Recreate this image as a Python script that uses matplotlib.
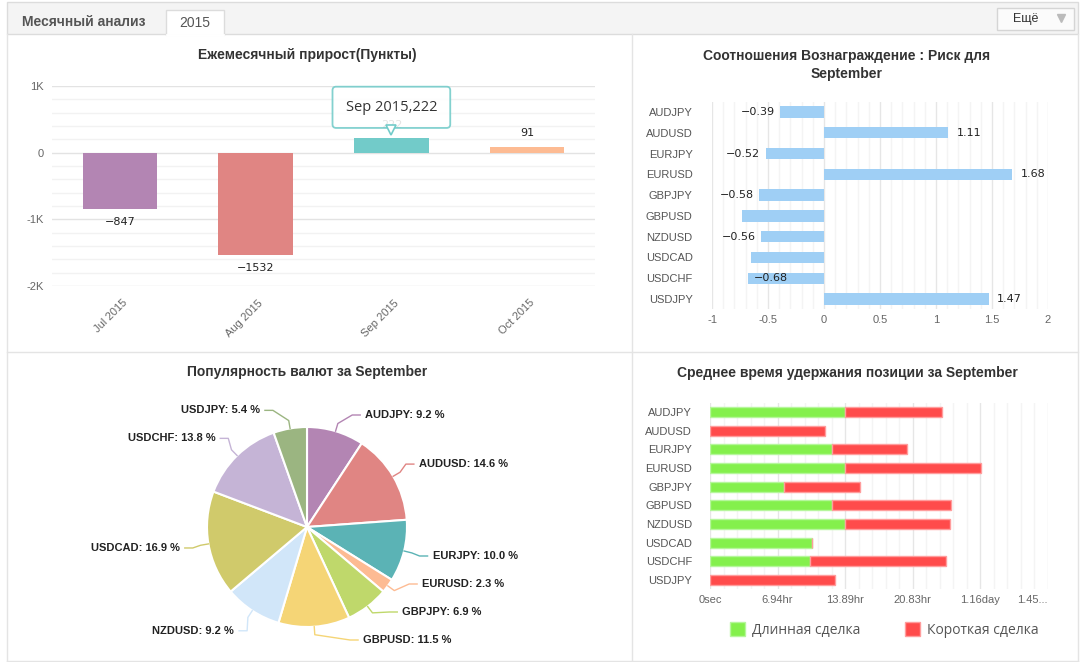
"""Месячный анализ: четыре панели (прирост, Reward:Risk, популярность, время удержания)."""

import matplotlib

matplotlib.use("Agg")
import matplotlib.pyplot as plt
import numpy as np
from matplotlib import transforms
from matplotlib.patches import Patch, Rectangle

plt.rcParams["font.family"] = ["Liberation Sans", "DejaVu Sans"]

W, H = 1084, 662

# --- данные -------------------------------------------------------------
months = ["Jul 2015", "Aug 2015", "Sep 2015", "Oct 2015"]
month_points = [-847, -1532, 222, 91]
month_colors = ["#b385b3", "#e08583", "#72cbc9", "#fdbb93"]

pairs = ["AUDJPY", "AUDUSD", "EURJPY", "EURUSD", "GBPJPY",
         "GBPUSD", "NZDUSD", "USDCAD", "USDCHF", "USDJPY"]
reward_risk = [-0.39, 1.11, -0.52, 1.68, -0.58, -0.73, -0.56, -0.65, -0.68, 1.47]
# подписи, которые видны на исходной картинке ("in" — внутри столбика)
reward_risk_label = ["out", "out", "out", "out", "out", None, "out", None, "in", "out"]

popularity = [9.2, 14.6, 10.0, 2.3, 6.9, 11.5, 9.2, 16.9, 13.8, 5.4]
pie_colors = ["#b385b3", "#e08583", "#5bb3b5", "#fdbb93", "#bfd86b",
              "#f5d576", "#d1e6f9", "#d0ca6b", "#c5b4d6", "#9bb581"]

# среднее время удержания, секунды
hold_long_s = [49900, 0, 45300, 49800, 27200, 45300, 49800, 37800, 37100, 0]
hold_short_s = [35900, 42400, 27700, 50500, 28200, 43900, 38900, 0, 50100, 46400]
hold_ticks_s = [0, 25000, 50000, 75000, 100000, 125000]
hold_tick_labels = ["0sec", "6.94hr", "13.89hr", "20.83hr", "1.16day", "1.45..."]

TITLE_KW = dict(fontsize=10, fontweight="bold", color="#333333", ha="center", va="center")
GRID_MINOR = "#f2f2f2"
GRID_MAJOR = "#e3e3e3"


def px_axes(fig, left, top, right, bottom, **kw):
    """Оси по пиксельным границам (начало координат — левый верхний угол)."""
    return fig.add_axes([left / W, 1 - bottom / H, (right - left) / W, (bottom - top) / H], **kw)


def clean(ax):
    for s in ax.spines.values():
        s.set_visible(False)
    ax.tick_params(which="both", length=0)


fig = plt.figure(figsize=(W / 100, H / 100), dpi=100)

# --- фон: шапка, вкладки, рамки панелей --------------------------------
bg = fig.add_axes([0, 0, 1, 1])
bg.set_xlim(0, W)
bg.set_ylim(H, 0)
bg.axis("off")
bg.add_patch(Rectangle((7, 2), 1071, 32, fc="#f4f4f4", ec="#dcdcdc", lw=1))
bg.add_patch(Rectangle((166, 10), 58, 25, fc="white", ec="#dcdcdc", lw=1))
bg.plot([167, 223], [34.5, 34.5], color="white", lw=2)
bg.text(84, 22, "Месячный анализ", fontsize=10, fontweight="bold", color="#555555",
        ha="center", va="center")
bg.text(195, 23, "2015", fontsize=10, color="#555555", ha="center", va="center")
bg.add_patch(Rectangle((997, 8), 77, 22, fc="#fbfbfb", ec="#d5d5d5", lw=1))
bg.text(1026, 19, "Ещё", fontsize=9, color="#333333", ha="center", va="center")
bg.plot([1061], [18], marker="v", ms=6, color="#bbbbbb", mec="#bbbbbb")
line_kw = dict(color="#e4e4e4", lw=1)
bg.plot([7, 7], [34, H], **line_kw)
bg.plot([1078, 1078], [34, H], **line_kw)
bg.plot([632, 632], [34, H], **line_kw)
bg.plot([7, 1078], [352, 352], **line_kw)
bg.plot([7, 1078], [661, 661], **line_kw)

# заголовки панелей
bg.text(307, 55, "Ежемесячный прирост(Пункты)", **TITLE_KW)
bg.text(847, 65, "Соотношения Вознаграждение : Риск для\nSeptember", linespacing=1.3, **TITLE_KW)
bg.text(307, 372, "Популярность валют за September", **TITLE_KW)
bg.text(847, 373, "Среднее время удержания позиции за September", **TITLE_KW)

# --- 1. Ежемесячный прирост --------------------------------------------
ax1 = px_axes(fig, 52, 86, 595, 286)
clean(ax1)
xi = np.arange(len(months))
ax1.bar(xi, month_points, width=0.55, color=month_colors, zorder=2)
ax1.set_xlim(-0.5, len(months) - 0.5)
ax1.set_ylim(-2000, 1000)
ax1.set_yticks([-2000, -1000, 0, 1000])
ax1.set_yticklabels(["-2K", "-1K", "0", "1K"], fontsize=8, color="#666666")
ax1.set_yticks(np.arange(-2000, 1001, 200), minor=True)
ax1.grid(axis="y", which="minor", color=GRID_MINOR, lw=1, zorder=0)
ax1.grid(axis="y", which="major", color=GRID_MAJOR, lw=1, zorder=0)
ax1.set_xticks(xi)
ax1.set_xticklabels(months, rotation=45, ha="right", va="center", rotation_mode="anchor",
                    fontsize=8, color="#666666")
ax1.tick_params(axis="x", pad=11)
ax1.tick_params(axis="y", pad=6)
for lbl in ax1.get_xticklabels():
    lbl.set_transform(lbl.get_transform() + transforms.ScaledTranslation(4 / 72, 0, fig.dpi_scale_trans))
for i, v in enumerate(month_points):
    txt = f"{v}".replace("-", "\u2212")
    ax1.annotate(txt, (i, v), xytext=(0, 6 if v > 0 else -6), textcoords="offset points",
                 ha="center", va="bottom" if v > 0 else "top", fontsize=8,
                 family="DejaVu Sans", color="#222222", zorder=3)
# всплывающая подсказка над сентябрём
sep = months.index("Sep 2015")
ax1.annotate(f"{months[sep]},{month_points[sep]}", (sep, month_points[sep]),
             xytext=(0, 22), textcoords="offset points", ha="center", va="center",
             fontsize=10.5, family="Open Sans", color="#333333", zorder=6,
             bbox=dict(boxstyle="round,pad=0.9,rounding_size=0.25", fc="white",
                       ec="#72cbc9", lw=1.3, alpha=0.88))
tip = transforms.offset_copy(ax1.transData, fig=fig, x=0, y=5.5, units="points")
ax1.plot([sep], [month_points[sep]], marker="v", ms=7, mfc="white", mec="#72cbc9",
         mew=1.2, transform=tip, zorder=7, clip_on=False)

# --- 2. Reward : Risk ---------------------------------------------------
ax2 = px_axes(fig, 712, 101.6, 1048, 309.4)
clean(ax2)
yi = np.arange(len(pairs))
ax2.barh(yi, reward_risk, height=0.55, color="#9fcff5", zorder=2)
ax2.set_ylim(len(pairs) - 0.5, -0.5)
ax2.set_xlim(-1, 2)
ax2.set_yticks(yi)
ax2.set_yticklabels(pairs, fontsize=8, color="#555555")
ax2.set_xticks([-1, -0.5, 0, 0.5, 1, 1.5, 2])
ax2.set_xticklabels(["-1", "-0.5", "0", "0.5", "1", "1.5", "2"], fontsize=8, color="#666666")
ax2.set_xticks(np.arange(-1, 2.001, 0.1), minor=True)
ax2.grid(axis="x", which="minor", color="#f4f4f4", lw=1, zorder=0)
ax2.grid(axis="x", which="major", color="#e6e6e6", lw=1, zorder=0)
ax2.tick_params(axis="y", pad=14)
ax2.tick_params(axis="x", pad=4)
for i, (v, mode) in enumerate(zip(reward_risk, reward_risk_label)):
    if mode is None:
        continue
    txt = f"{v:.2f}".replace("-", "\u2212")
    if mode == "in":
        off, ha = 4, "left"
    elif v < 0:
        off, ha = -4, "right"
    else:
        off, ha = 6, "left"
    ax2.annotate(txt, (v, i), xytext=(off, 0), textcoords="offset points", ha=ha,
                 va="center", fontsize=8, family="DejaVu Sans", color="#222222", zorder=3)

# --- 3. Популярность валют ---------------------------------------------
cx, cy, r_px = 307, 527, 100
span = 1.6
ax3 = px_axes(fig, cx - span * r_px, cy - span * r_px, cx + span * r_px, cy + span * r_px)
ax3.pie(popularity, colors=pie_colors, startangle=90, counterclock=False, radius=1,
        wedgeprops=dict(edgecolor="white", linewidth=1.5))
ax3.set_xlim(-span, span)
ax3.set_ylim(-span, span)
ax3.axis("off")
fr = np.array(popularity) / np.sum(popularity)
mids = np.deg2rad((np.cumsum(fr) - fr / 2) * 360)
rl = 1.24
ys = rl * np.cos(mids)
ys = np.clip(ys, -1.13, 1.12)
right = [i for i in range(len(pairs)) if mids[i] < np.pi]
left = [i for i in range(len(pairs)) if mids[i] >= np.pi]
for k in range(len(right) - 2, -1, -1):  # снизу вверх, без наложений
    ys[right[k]] = max(ys[right[k]], ys[right[k + 1]] + 0.28)
for k in range(1, len(left)):
    ys[left[k]] = max(ys[left[k]], ys[left[k - 1]] + 0.28)
for i, (p, v) in enumerate(zip(pairs, popularity)):
    a = mids[i]
    sgn = 1 if a < np.pi else -1
    y = ys[i]
    xa = max(np.sqrt(max(rl ** 2 - y ** 2, 0)), rl * abs(np.sin(a)))
    ex, ey = np.sin(a), np.cos(a)
    ax3.plot([ex, 1.08 * ex, sgn * (xa - 0.08), sgn * xa], [ey, 1.08 * ey, y, y],
             color=pie_colors[i], lw=1, clip_on=False)
    ax3.text(sgn * (xa + 0.05), y, f"{p}: {v:.1f} %", ha="left" if sgn > 0 else "right",
             va="center", fontsize=8, fontweight="bold", color="#222222")

# --- 4. Среднее время удержания ----------------------------------------
ax4 = px_axes(fig, 710, 402.7, 1048, 589.3)
clean(ax4)
ax4.barh(yi, hold_long_s, height=0.55, color="#84f04c", edgecolor="#b6f69c", lw=1, zorder=2)
ax4.barh(yi, hold_short_s, left=hold_long_s, height=0.55, color="#ff4b4b",
         edgecolor="#ff9d9d", lw=1, zorder=2)
ax4.set_ylim(len(pairs) - 0.5, -0.5)
ax4.set_xlim(hold_ticks_s[0], hold_ticks_s[-1])
ax4.set_yticks(yi)
ax4.set_yticklabels(pairs, fontsize=8, color="#555555")
ax4.set_xticks(hold_ticks_s)
ax4.set_xticklabels(hold_tick_labels, fontsize=8, color="#666666")
ax4.get_xticklabels()[-1].set_ha("right")
ax4.set_xticks(np.arange(0, hold_ticks_s[-1] + 1, 5000), minor=True)
ax4.grid(axis="x", which="minor", color="#f4f4f4", lw=1, zorder=0)
ax4.grid(axis="x", which="major", color="#e6e6e6", lw=1, zorder=0)
ax4.tick_params(axis="y", pad=13)
ax4.tick_params(axis="x", pad=4)
fig.legend(handles=[Patch(fc="#84f04c", ec="#b6f69c"), Patch(fc="#ff4b4b", ec="#ff9d9d")],
           labels=["Длинная сделка", "Короткая сделка"], loc="center",
           bbox_to_anchor=(884 / W, 1 - 630 / H), ncol=2, frameon=False,
           prop={"family": "Open Sans", "size": 10}, labelcolor="#555555",
           handlelength=1.1, handleheight=1.1, handletextpad=0.5, columnspacing=3.2)

fig.savefig("out.png", dpi=100)
